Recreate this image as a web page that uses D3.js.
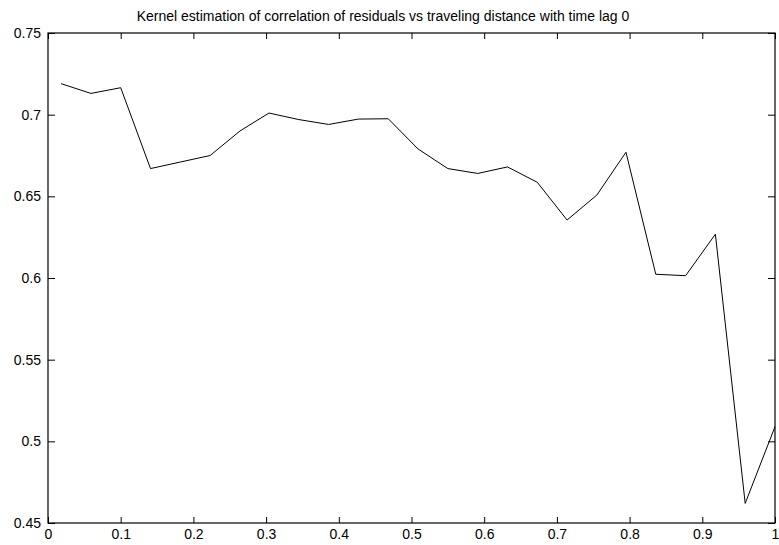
<!DOCTYPE html>
<html>
<head>
<meta charset="utf-8">
<script src="https://cdn.jsdelivr.net/npm/d3@7"></script>
<style>
  html, body { margin: 0; padding: 0; background: #fff; }
  svg { display: block; }
  text { font-family: "Liberation Sans", Arial, Helvetica, sans-serif; fill: #000; }
</style>
</head>
<body>
<svg id="chart" width="779" height="545"></svg>
<script>
// Kernel estimate of residual correlation against travelling distance (time lag 0)
const distance = [0.018, 0.059, 0.100, 0.141, 0.182, 0.223, 0.264, 0.304, 0.345, 0.386,
                  0.427, 0.468, 0.509, 0.550, 0.591, 0.632, 0.673, 0.714, 0.755, 0.795,
                  0.836, 0.877, 0.918, 0.959, 1.000];
const correlation = [0.719, 0.713, 0.7165, 0.667, 0.671, 0.675, 0.690, 0.701, 0.697, 0.694,
                     0.6973, 0.6975, 0.679, 0.667, 0.664, 0.668, 0.6586, 0.6355, 0.6508, 0.677,
                     0.6023, 0.6014, 0.6268, 0.462, 0.509];
const xTicks = [0, 0.1, 0.2, 0.3, 0.4, 0.5, 0.6, 0.7, 0.8, 0.9, 1];
const yTicks = [0.45, 0.5, 0.55, 0.6, 0.65, 0.7, 0.75];
const titleText = "Kernel estimation of correlation of residuals vs traveling distance with time lag 0";

const width = 779, height = 545;
const margin = { top: 33, right: 4, bottom: 22, left: 48 };
const svg = d3.select("#chart");

const x = d3.scaleLinear().domain([0, 1]).range([margin.left, width - margin.right]);
const y = d3.scaleLinear().domain([0.45, 0.75]).range([height - margin.bottom, margin.top]);

const fmt = d => String(+d.toFixed(2));

// inward ticks on all four sides
const gx = svg.append("g").attr("transform", `translate(0,${y.range()[0]})`)
  .call(d3.axisBottom(x).tickValues(xTicks).tickFormat(fmt).tickSizeInner(-6).tickSizeOuter(0).tickPadding(6));
const gxTop = svg.append("g").attr("transform", `translate(0,${y.range()[1]})`)
  .call(d3.axisTop(x).tickValues(xTicks).tickFormat("").tickSizeInner(-6).tickSizeOuter(0));
const gy = svg.append("g").attr("transform", `translate(${x.range()[0]},0)`)
  .call(d3.axisLeft(y).tickValues(yTicks).tickFormat(fmt).tickSizeInner(-7).tickSizeOuter(0).tickPadding(7));
const gyRight = svg.append("g").attr("transform", `translate(${x.range()[1]},0)`)
  .call(d3.axisRight(y).tickValues(yTicks).tickFormat("").tickSizeInner(-7).tickSizeOuter(0));

[gx, gxTop, gy, gyRight].forEach(g => {
  g.select(".domain").remove();
  g.selectAll("line").attr("stroke", "#000").attr("stroke-width", 1);
  g.selectAll("text").attr("font-size", 14).attr("fill", "#000")
    .attr("font-family", "'Liberation Sans', Arial, sans-serif");
});

// plot frame
svg.append("rect")
  .attr("x", x.range()[0]).attr("y", y.range()[1])
  .attr("width", x.range()[1] - x.range()[0])
  .attr("height", y.range()[0] - y.range()[1])
  .attr("fill", "none").attr("stroke", "#000").attr("stroke-width", 1.2);

// data curve
const line = d3.line().x((d, i) => x(distance[i])).y(d => y(d));
svg.append("path")
  .datum(correlation)
  .attr("d", line)
  .attr("fill", "none")
  .attr("stroke", "#000")
  .attr("stroke-width", 1)
  .attr("stroke-linejoin", "miter");

// title, centred on the page
svg.append("text")
  .attr("x", 383)
  .attr("y", 21)
  .attr("text-anchor", "middle")
  .attr("font-size", 14)
  .text(titleText);
</script>
</body>
</html>
